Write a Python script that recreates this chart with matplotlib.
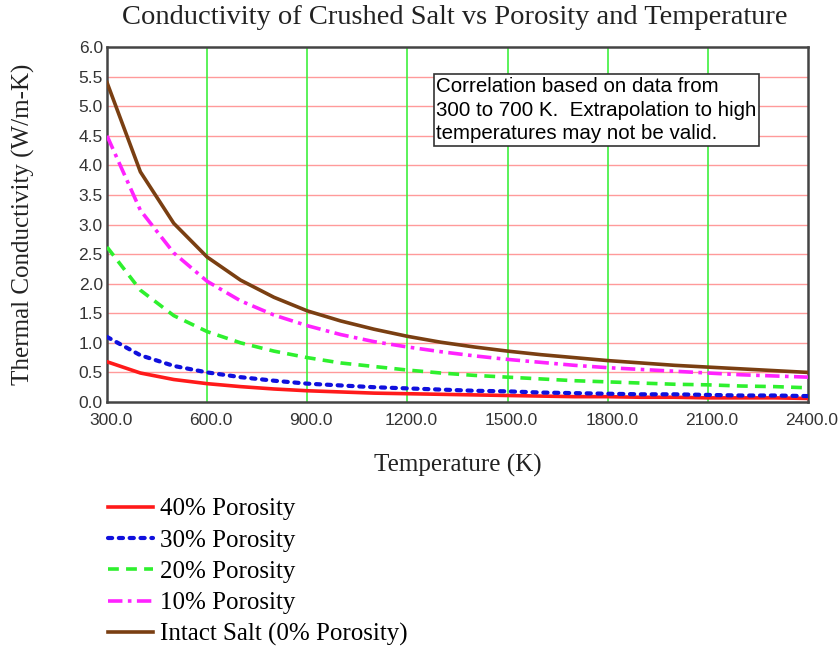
import matplotlib
matplotlib.use("Agg")
import matplotlib.pyplot as plt
from matplotlib.transforms import ScaledTranslation

temperature = [300, 400, 500, 600, 700, 800, 900, 1000, 1100, 1200, 1300, 1400,
               1500, 1600, 1700, 1800, 1900, 2000, 2100, 2200, 2300, 2400]
k_40 = [0.68, 0.49, 0.38, 0.31, 0.26, 0.22, 0.19, 0.17, 0.15, 0.14, 0.13, 0.12,
        0.11, 0.10, 0.09, 0.09, 0.08, 0.08, 0.07, 0.07, 0.07, 0.06]
k_30 = [1.10, 0.79, 0.61, 0.50, 0.42, 0.36, 0.31, 0.28, 0.25, 0.23, 0.21, 0.19,
        0.18, 0.16, 0.15, 0.14, 0.13, 0.13, 0.12, 0.11, 0.11, 0.10]
k_20 = [2.62, 1.89, 1.46, 1.19, 1.00, 0.86, 0.75, 0.66, 0.60, 0.54, 0.49, 0.45,
        0.42, 0.39, 0.36, 0.34, 0.32, 0.30, 0.29, 0.27, 0.26, 0.24]
k_10 = [4.50, 3.24, 2.52, 2.04, 1.71, 1.47, 1.29, 1.14, 1.02, 0.93, 0.85, 0.78,
        0.72, 0.67, 0.62, 0.58, 0.55, 0.52, 0.49, 0.46, 0.44, 0.42]
k_0 = [5.40, 3.89, 3.02, 2.45, 2.06, 1.77, 1.54, 1.37, 1.23, 1.11, 1.01, 0.93,
       0.86, 0.80, 0.75, 0.70, 0.66, 0.62, 0.59, 0.56, 0.53, 0.50]
labels = ["40% Porosity", "30% Porosity", "20% Porosity", "10% Porosity",
          "Intact Salt (0% Porosity)"]
x_ticks = [300, 600, 900, 1200, 1500, 1800, 2100, 2400]
y_ticks = [0.0, 0.5, 1.0, 1.5, 2.0, 2.5, 3.0, 3.5, 4.0, 4.5, 5.0, 5.5, 6.0]
note = "Correlation based on data from\n300 to 700 K.  Extrapolation to high\ntemperatures may not be valid."

serif = ["Liberation Serif", "DejaVu Serif"]
sans = ["Liberation Sans", "DejaVu Sans"]
plt.rcParams['font.family'] = serif

fig = plt.figure(figsize=(8.4, 6.5), dpi=100)
ax = fig.add_axes([107/840, 1-402/650, (808-107)/840, (402-47)/650])

for y in y_ticks[1:-1]:
    ax.axhline(y, color="#ff9a9a", lw=1.0, zorder=1)
for x in x_ticks[1:-1]:
    ax.axvline(x, color="#3ef03e", lw=1.2, zorder=1)

series = [k_40, k_30, k_20, k_10, k_0]
styles = [
    dict(color="#ff1a1a", ls="-", lw=2.6),
    dict(color="#1010dd", ls=(0, (1, 1.6)), lw=3.0, dash_capstyle="round"),
    dict(color="#2ef02e", ls=(0, (3, 2)), lw=2.6),
    dict(color="#ff22ff", ls=(0, (4, 1.5, 1, 1.5)), lw=2.6),
    dict(color="#7a3f12", ls="-", lw=2.6),
]
handles = []
for vals, st, lab in zip(series, styles, labels):
    h, = ax.plot(temperature, vals, label=lab, zorder=3, **st)
    handles.append(h)

ax.set_xlim(300, 2400)
ax.set_ylim(0, 6)
ax.set_xticks(x_ticks)
ax.set_xticklabels([f"{v:.1f}" for v in x_ticks], family=sans)
ax.set_yticks(y_ticks)
ax.set_yticklabels([f"{v:.1f}" for v in y_ticks], family=sans)
ax.tick_params(length=0, labelsize=12.5, colors="#333333")
ax.tick_params(axis="x", pad=8)
ax.tick_params(axis="y", pad=3)
shift = ScaledTranslation(4/100, 0, fig.dpi_scale_trans)
for lbl in ax.get_xticklabels():
    lbl.set_transform(lbl.get_transform() + shift)
for s in ax.spines.values():
    s.set_color("#444444")
    s.set_linewidth(1.8)

ax.text((433 - 107 + 3) / 701, 1 - (110 - 47) / 355, note, transform=ax.transAxes,
        family=sans, fontsize=14.8, va="center", ha="left", linespacing=1.32,
        bbox=dict(boxstyle="square,pad=0.12", fc="white", ec="#333333", lw=1.2), zorder=5)

fig.text(455/840, 1 - 18/650, "Conductivity of Crushed Salt vs Porosity and Temperature",
         ha="center", va="center", fontsize=20.5, color="#222222")
fig.text(23/840, 1 - 224/650, "Thermal Conductivity (W/m-K)", rotation=90,
         ha="center", va="center", fontsize=18, color="#222222")
fig.text(458/840, 1 - 465/650, "Temperature (K)", ha="center", va="center",
         fontsize=18, color="#222222")

fig.legend(handles=handles, loc="upper left", bbox_to_anchor=(103/840, 1 - 493/650),
           frameon=False, fontsize=18, handlelength=1.8, handletextpad=0.3,
           labelspacing=0.35, borderaxespad=0, borderpad=0.2)

fig.savefig("out.png", dpi=100, facecolor="white")
